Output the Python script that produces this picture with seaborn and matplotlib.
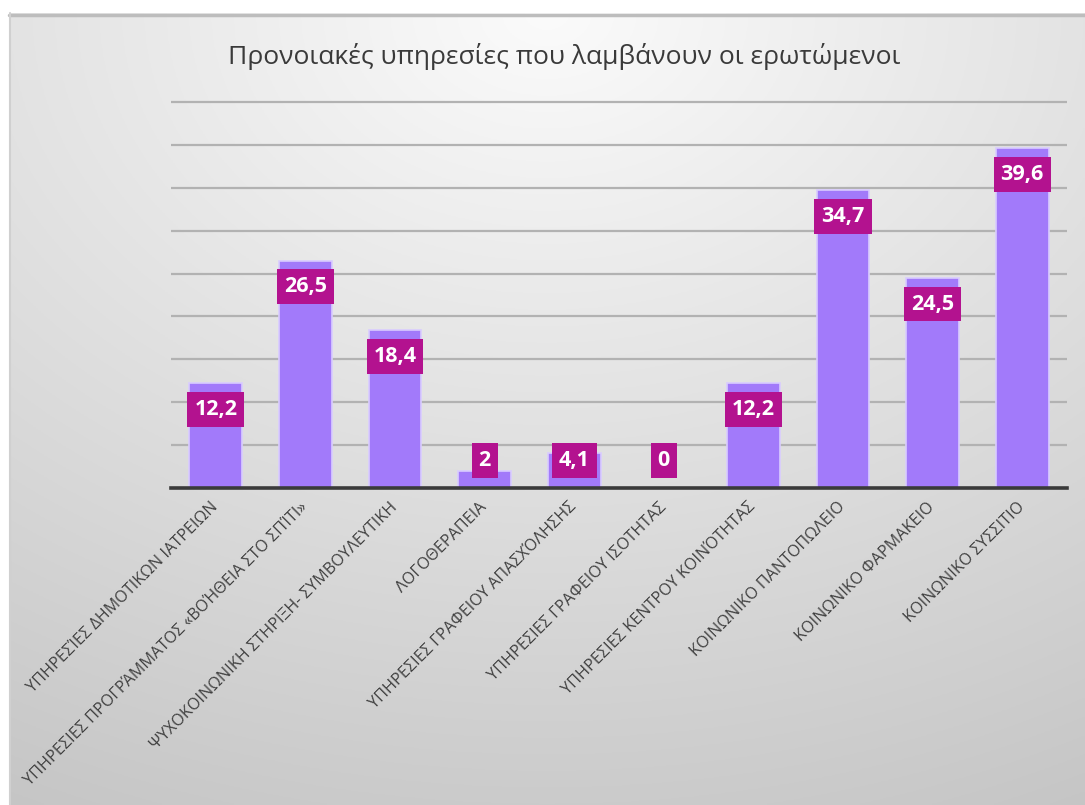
import numpy as np
import pandas as pd
import matplotlib
matplotlib.use("Agg")
import matplotlib.pyplot as plt
import seaborn as sns

categories = [
    "ΥΠΗΡΕΣΊΕΣ ΔΗΜΟΤΙΚΩΝ ΙΑΤΡΕΙΩΝ",
    "ΥΠΗΡΕΣΙΕΣ ΠΡΟΓΡΆΜΜΑΤΟΣ «ΒΟΉΘΕΙΑ ΣΤΟ ΣΠΊΤΙ»",
    "ΨΥΧΟΚΟΙΝΩΝΙΚΗ ΣΤΗΡΙΞΗ- ΣΥΜΒΟΥΛΕΥΤΙΚΗ",
    "ΛΟΓΟΘΕΡΑΠΕΙΑ",
    "ΥΠΗΡΕΣΙΕΣ ΓΡΑΦΕΙΟΥ ΑΠΑΣΧΌΛΗΣΗΣ",
    "ΥΠΗΡΕΣΙΕΣ ΓΡΑΦΕΙΟΥ ΙΣΟΤΗΤΑΣ",
    "ΥΠΗΡΕΣΙΕΣ ΚΕΝΤΡΟΥ ΚΟΙΝΌΤΗΤΑΣ",
    "ΚΟΙΝΩΝΙΚΟ ΠΑΝΤΟΠΩΛΕΙΟ",
    "ΚΟΙΝΩΝΙΚΟ ΦΑΡΜΑΚΕΙΟ",
    "ΚΟΙΝΩΝΙΚΟ ΣΥΣΣΙΤΙΟ",
]
values = [12.2, 26.5, 18.4, 2, 4.1, 0, 12.2, 34.7, 24.5, 39.6]
value_labels = ["12,2", "26,5", "18,4", "2", "4,1", "0", "12,2", "34,7", "24,5", "39,6"]
title = "Προνοιακές υπηρεσίες που λαμβάνουν οι ερωτώμενοι"

df = pd.DataFrame({"category": categories, "value": values})

sns.set_theme(style="white")
plt.rcParams["font.family"] = ["Open Sans", "DejaVu Sans"]

W, H = 1085, 805
fig = plt.figure(figsize=(W / 100, H / 100), dpi=100, facecolor="white")

# background panel with soft radial gradient
bx0, by1 = 9, 13
bg = fig.add_axes([bx0 / W, 0, (W - bx0) / W, (H - by1) / H], zorder=-5)
gx = np.linspace(0, 1, 400)
gy = np.linspace(0, 1, 300)
X, Y = np.meshgrid(gx, gy)
d = np.sqrt((X - 0.5) ** 2 + (Y * 1.0) ** 2)
g = np.clip(251 - 48 * d, 0, 255) / 255.0
img = np.dstack([g, g, g])
bg.imshow(img, aspect="auto", extent=[0, 1, 1, 0], origin="upper")
bg.set_xlim(0, 1)
bg.set_ylim(1, 0)
bg.axis("off")
bg.plot([0, 1], [0.998, 0.998], color="#BDBDBD", lw=2.5, transform=bg.transAxes, clip_on=False)
bg.plot([0.0005, 0.0005], [0, 1], color="#D0D0D0", lw=1.5, transform=bg.transAxes, clip_on=False)

# main axes
ymax = 46
pxu = 386 / 45.0
ax_left, ax_right = 171, 1067
ax_bottom_px = 488
ax_h = ymax * pxu
ax = fig.add_axes([ax_left / W, (H - ax_bottom_px) / H, (ax_right - ax_left) / W, ax_h / H])
ax.set_facecolor("none")

sns.barplot(data=df, x="category", y="value", color="#A27AFA", saturation=1,
            width=0.59, edgecolor="#D9CCFF", linewidth=1.2, ax=ax, zorder=3)

ax.set_ylim(0, ymax)
ax.set_xlim(-0.5, len(categories) - 0.5)
ax.set_yticks(np.arange(5, 50, 5))
ax.yaxis.grid(True, color="#B2B2B2", linewidth=1.6, zorder=0)
ax.set_axisbelow(True)
ax.tick_params(axis="y", left=False, labelleft=False)
ax.tick_params(axis="x", length=0, pad=12)
for s in ["left", "right", "top"]:
    ax.spines[s].set_visible(False)
ax.spines["bottom"].set_color("#3A3A3A")
ax.spines["bottom"].set_linewidth(2.6)
ax.spines["bottom"].set_zorder(4)
ax.set_xlabel("")
ax.set_ylabel("")

ax.set_xticks(range(len(categories)))
ax.set_xticklabels(categories, rotation=45, ha="right", va="center",
                   rotation_mode="anchor", fontsize=11.6, color="#404040")

for i, (v, lab) in enumerate(zip(values, value_labels)):
    yl = max(v - 3.05, 3.2)
    ax.text(i, yl, lab, ha="center", va="center", fontsize=15.5, fontweight="bold",
            color="white", zorder=6,
            bbox=dict(boxstyle="square,pad=0.32", facecolor="#B3128F", edgecolor="none"))

fig.text(564 / W, 1 - 56 / H, title, ha="center", va="center", fontsize=19,
         color="#3A3A3A")

fig.savefig("out.png", dpi=100, facecolor="white")
